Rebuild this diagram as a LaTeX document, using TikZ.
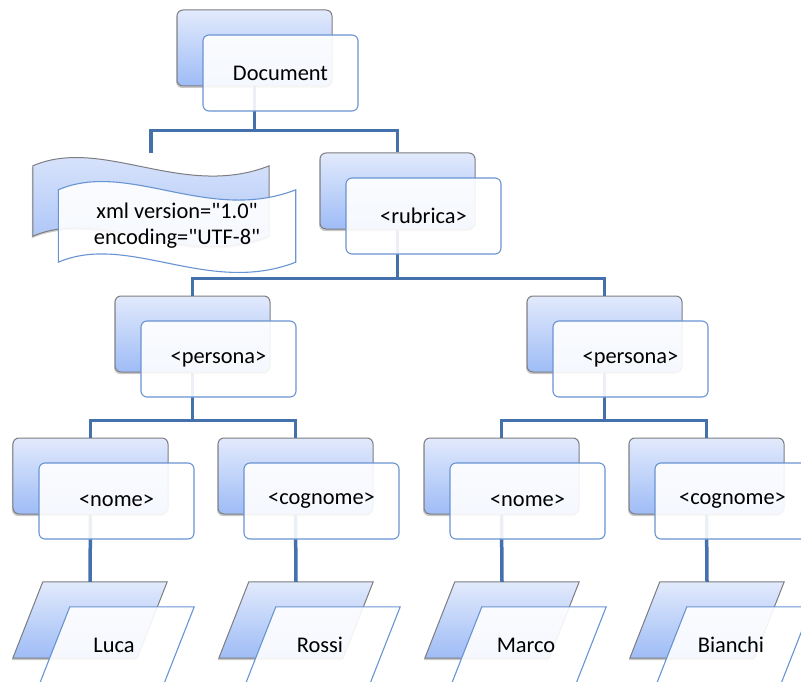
\documentclass[tikz,border=0pt]{standalone}
\usepackage{fontspec}
\setmainfont{Carlito}[Ligatures=TeXOff]
\usetikzlibrary{calc,shadows}

\definecolor{connc}{RGB}{68,112,172}
\definecolor{backtop}{RGB}{226,234,252}
\definecolor{backbot}{RGB}{158,188,246}
\definecolor{backline}{RGB}{125,125,130}
\definecolor{frontline}{RGB}{105,148,210}

\tikzset{
  softshadow/.style={drop shadow={shadow xshift=-1bp, shadow yshift=-2bp, opacity=0.3, fill=black!70}},
  backbox/.style={rectangle, rounded corners=6bp, minimum width=155bp, minimum height=76bp,
    inner sep=0, draw=backline, line width=1bp, top color=backtop, bottom color=backbot, softshadow},
  frontbox/.style={rectangle, rounded corners=6bp, minimum width=155bp, minimum height=76bp,
    inner sep=0, draw=frontline, line width=1.1bp, fill=white, fill opacity=0.9, text opacity=1,
    font=\fontsize{22.5}{26}\selectfont},
  backshape/.style={draw=backline, line width=1bp, top color=backtop, bottom color=backbot, softshadow},
  frontshape/.style={draw=frontline, line width=1.1bp, fill=white, fill opacity=0.9},
  frame/.style={rectangle, inner sep=0, draw=none},
  label/.style={font=\fontsize{22.5}{26}\selectfont, align=center, inner sep=0},
  conn/.style={draw=connc, line width=3.5bp}
}

% slanted box drawn inside the frame node #2
\newcommand\slantbox[2]{\path[#1] ($(#2.north west)+(30,0)$) -- (#2.north east)
  -- ($(#2.south east)+(-30,0)$) -- (#2.south west) -- cycle;}
% banner with wavy top and bottom edges drawn inside the frame node #2
\newcommand\wavebanner[2]{\path[#1] (#2.north west)
  .. controls ($(#2.north west)+(70,-30)$) and ($(#2.north west)+(150,34)$) .. (#2.north east)
  -- (#2.south east)
  .. controls ($(#2.south west)+(150,34)$) and ($(#2.south west)+(70,-30)$) .. (#2.south west)
  -- cycle;}

\begin{document}
\begin{tikzpicture}[x=1bp,y=-1bp]
\useasboundingbox (0,0) rectangle (801,682);
\clip (0,0) rectangle (801,682);

% ---- back layer ----
\node[backbox] (docB)  at (254.5,48) {};
\node[backbox] (rubB)  at (397.5,191) {};
\node[backbox] (perLB) at (192.5,334) {};
\node[backbox] (perRB) at (604.5,334) {};
\node[backbox] (nomLB) at (90.5,476) {};
\node[backbox] (cogLB) at (295.5,476) {};
\node[backbox] (nomRB) at (501.5,476) {};
\node[backbox] (cogRB) at (706.5,476) {};

\node[frame, minimum width=236bp, minimum height=70bp] (xmlB) at (151,201) {};
\wavebanner{backshape}{xmlB}

\node[frame, minimum width=154bp, minimum height=76bp] (lucaB)    at (90,620) {};
\node[frame, minimum width=154bp, minimum height=76bp] (rossiB)   at (296,620) {};
\node[frame, minimum width=154bp, minimum height=76bp] (marcoB)   at (502,620) {};
\node[frame, minimum width=154bp, minimum height=76bp] (bianchiB) at (707,620) {};
\slantbox{backshape}{lucaB}
\slantbox{backshape}{rossiB}
\slantbox{backshape}{marcoB}
\slantbox{backshape}{bianchiB}

% ---- connectors ----
\coordinate (xmlTop) at ($(xmlB.north)+(0,-13)$);
\draw[conn] (docB.south) -- ++(0,44) -| (xmlTop);
\draw[conn] (docB.south) -- ++(0,44) -| (rubB.north);
\draw[conn] (rubB.south) -- ++(0,49) -| (perLB.north);
\draw[conn] (rubB.south) -- ++(0,49) -| (perRB.north);
\draw[conn] (perLB.south) -- ++(0,48) -| (nomLB.north);
\draw[conn] (perLB.south) -- ++(0,48) -| (cogLB.north);
\draw[conn] (perRB.south) -- ++(0,48) -| (nomRB.north);
\draw[conn] (perRB.south) -- ++(0,48) -| (cogRB.north);
\draw[conn] (nomLB.south) -- (lucaB.north);
\draw[conn] (cogLB.south) -- (rossiB.north);
\draw[conn] (nomRB.south) -- (marcoB.north);
\draw[conn] (cogRB.south) -- (bianchiB.north);

% ---- front layer ----
\node[frontbox] (doc)  at (280.5,73)  {Document};
\node[frontbox] (rub)  at (423.5,216) {<rubrica>};
\node[frontbox] (perL) at (218.5,359) {<persona>};
\node[frontbox] (perR) at (630.5,359) {<persona>};
\node[frontbox] (nomL) at (116.5,501) {<nome>};
\node[frontbox] (cogL) at (321.5,501) {<cognome>};
\node[frontbox] (nomR) at (527.5,501) {<nome>};
\node[frontbox] (cogR) at (732.5,501) {<cognome>};

\node[frame, minimum width=237bp, minimum height=72bp] (xmlF) at (177,226) {};
\wavebanner{frontshape}{xmlF}
\node[label] (xml) at (xmlF) {xml version="1.0"\\encoding="UTF-8"};

\node[frame, minimum width=154bp, minimum height=76bp] (lucaF)    at (117,645) {};
\node[frame, minimum width=154bp, minimum height=76bp] (rossiF)   at (323,645) {};
\node[frame, minimum width=154bp, minimum height=76bp] (marcoF)   at (529,645) {};
\node[frame, minimum width=154bp, minimum height=76bp] (bianchiF) at (734,645) {};
\slantbox{frontshape}{lucaF}
\slantbox{frontshape}{rossiF}
\slantbox{frontshape}{marcoF}
\slantbox{frontshape}{bianchiF}
\node[label] (luca)    at ($(lucaF)+(-3,0)$)    {Luca};
\node[label] (rossi)   at ($(rossiF)+(-3,0)$)   {Rossi};
\node[label] (marco)   at ($(marcoF)+(-3,0)$)   {Marco};
\node[label] (bianchi) at ($(bianchiF)+(-3,0)$) {Bianchi};
\end{tikzpicture}
\end{document}
